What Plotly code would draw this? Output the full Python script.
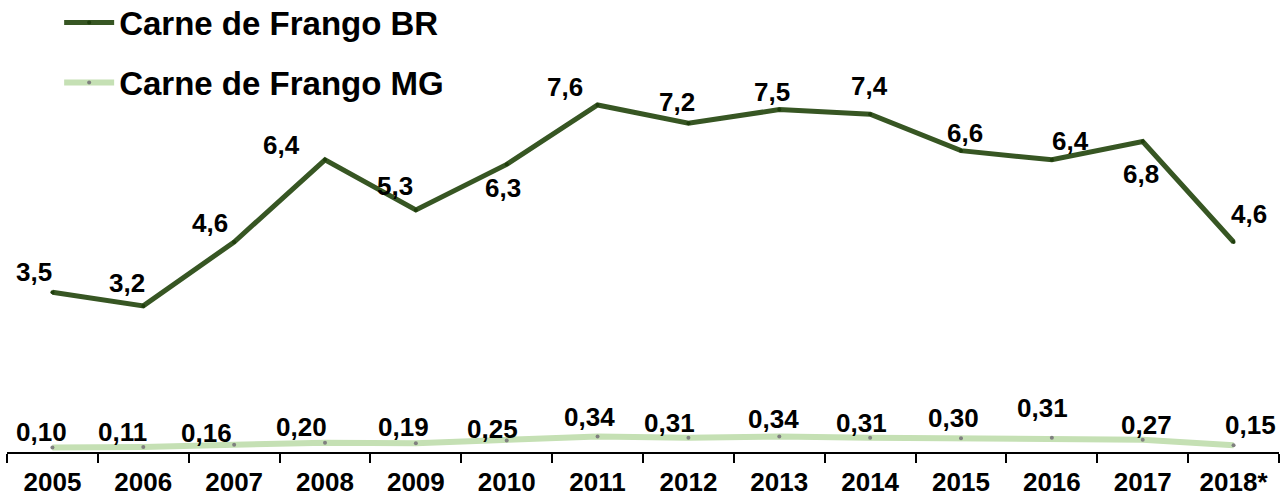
import plotly.graph_objects as go

# Exportações de carne de frango (milhões de toneladas)
years = ["2005", "2006", "2007", "2008", "2009", "2010", "2011",
         "2012", "2013", "2014", "2015", "2016", "2017", "2018*"]
frango_br = [3.5, 3.2, 4.6, 6.4, 5.3, 6.3, 7.6, 7.2, 7.5, 7.4, 6.6, 6.4, 6.8, 4.6]
frango_mg = [0.10, 0.11, 0.16, 0.20, 0.19, 0.25, 0.34, 0.31, 0.34, 0.31, 0.30, 0.31, 0.27, 0.15]

# label offsets in pixels (dx, dy; dy positive = downwards)
br_offsets = [(-18, -20), (-16, -23), (-24, -19), (-44, -15), (-21, -24), (-4, 24), (-33, -18),
              (-11, -21), (-7, -18), (-1, -28), (4, -18), (19, -19), (-2, 32), (15, -28)]
mg_offsets = [(-11, -15), (-21, -15), (-28, -12), (-24, -16), (-12, -16), (-14, -12), (-8, -19),
              (-19, -15), (-6, -17), (-9, -15), (-8, -20), (-9, -30), (4, -15), (17, -20)]

FONT = "Liberation Sans, Arial, sans-serif"
DARK = "#375623"
LIGHT = "#C5E0B4"

fig = go.Figure()
fig.add_trace(go.Scatter(
    x=years, y=frango_br, name="Carne de Frango BR", mode="lines+markers",
    line=dict(color=DARK, width=5), marker=dict(color="#1E3D0C", size=4),
    legendgroup="br",
))
fig.add_trace(go.Scatter(
    x=years, y=frango_mg, name="Carne de Frango MG", mode="lines+markers",
    line=dict(color=LIGHT, width=6), marker=dict(color="#7F7F7F", size=4),
    legendgroup="mg",
))

# value labels; category positions are given by index so numeric-looking
# year strings are not read as coordinates
label_font = dict(family=FONT, size=26, color="black", weight="bold")
for series, fmt, offs in ((frango_br, "{:.1f}", br_offsets), (frango_mg, "{:.2f}", mg_offsets)):
    for i, (v, (dx, dy)) in enumerate(zip(series, offs)):
        fig.add_annotation(
            x=i, y=v, text=fmt.format(v).replace(".", ","), showarrow=False,
            xanchor="center", yanchor="middle", xshift=dx, yshift=-dy,
            font=label_font,
        )

fig.update_layout(
    width=1283, height=499,
    margin=dict(l=7, r=4, t=0, b=47, autoexpand=False),
    paper_bgcolor="white", plot_bgcolor="white",
    showlegend=True,
    legend=dict(
        x=0.041, y=1.012, xanchor="left", yanchor="top",
        font=dict(family=FONT, size=33, color="black", weight="bold"),
        itemwidth=50, tracegroupgap=14, bgcolor="rgba(0,0,0,0)",
    ),
    xaxis=dict(
        type="category", range=[-0.5, 13.5], automargin=False,
        showline=True, linecolor="black", linewidth=1.5,
        ticks="outside", tickson="boundaries", ticklen=9, tickwidth=1.5, tickcolor="black",
        tickfont=dict(family=FONT, size=26, color="black", weight="bold"),
        ticklabelstandoff=6,
        showgrid=False, zeroline=False,
    ),
    yaxis=dict(range=[0, 9.9], visible=False, showgrid=False, zeroline=False),
)

fig.write_html("out.html")
